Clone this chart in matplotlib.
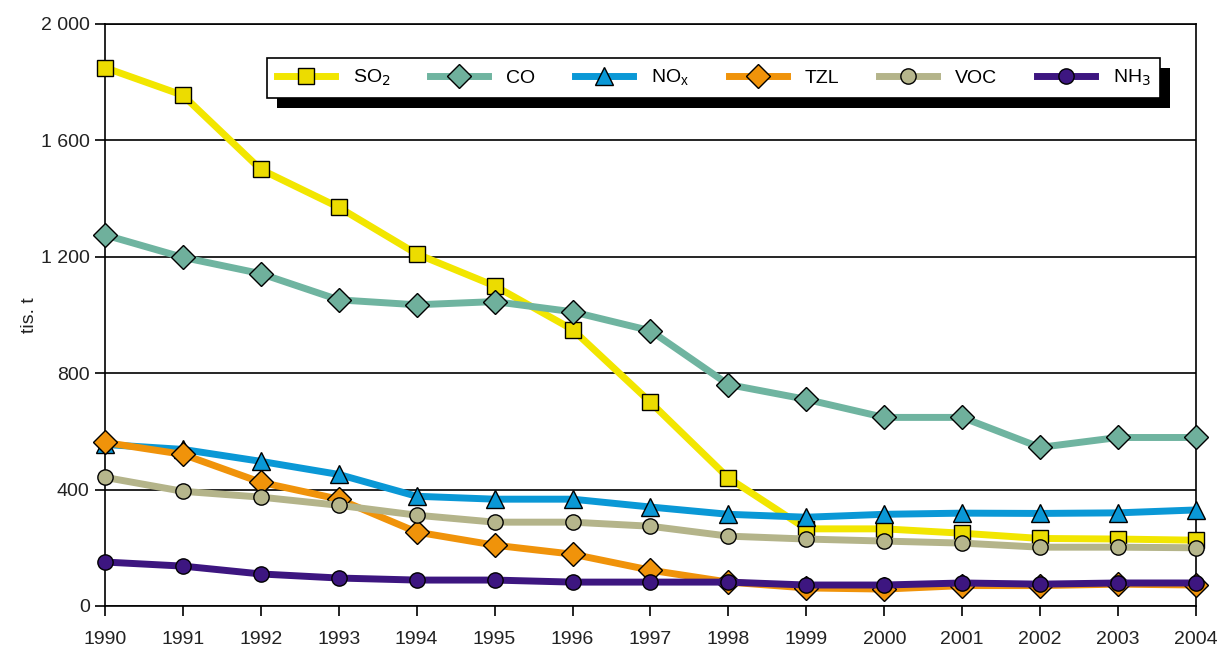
import numpy as np
import matplotlib
matplotlib.use("Agg")
import matplotlib.pyplot as plt
from matplotlib.patches import Rectangle
from matplotlib.ticker import FuncFormatter

plt.rcParams['font.family'] = ['Liberation Sans', 'DejaVu Sans']

years = list(range(1990, 2005))
so2 = [1850, 1755, 1500, 1370, 1210, 1100, 950, 700, 440, 265, 265, 250, 232, 230, 226]
co = [1275, 1198, 1142, 1052, 1035, 1046, 1011, 946, 761, 710, 648, 648, 545, 579, 579]
nox = [555, 538, 497, 452, 377, 367, 367, 340, 315, 305, 315, 319, 318, 320, 330]
tzl = [562, 521, 425, 367, 254, 209, 178, 123, 82, 62, 58, 70, 70, 75, 72]
voc = [442, 394, 374, 346, 312, 288, 288, 274, 240, 230, 223, 216, 202, 202, 200]
nh3 = [151, 137, 110, 96, 89, 89, 82, 82, 82, 72, 72, 79, 75, 79, 79]

labels = ['SO$_2$', 'CO', 'NO$_\\mathregular{x}$', 'TZL', 'VOC', 'NH$_3$']
series = [so2, co, nox, tzl, voc, nh3]
colors = ['#f2e600', '#6fb4a0', '#0a98d6', '#f0930a', '#b4b48a', '#3d1680']
faces = ['#ecdc00', '#6fb09c', '#0a98d6', '#f0930a', '#b6b68c', '#3d1680']
markers = ['s', 'D', '^', 'D', 'o', 'o']
msizes = [12, 12, 13, 12, 11, 11]

fig = plt.figure(figsize=(12.22, 6.52), dpi=100)
ax = fig.add_axes([0.0859, 0.0706, 0.8928, 0.8926])

# draw order: NH3 on top of TZL at the end
order = [1, 0, 2, 4, 3, 5]
for i in order:
    ax.plot(years, series[i], color=colors[i], lw=5, marker=markers[i],
            ms=msizes[i], mfc=faces[i], mec='black', mew=1.0,
            label=labels[i], zorder=3 + i * 0.1, clip_on=False)

ax.set_xlim(1990, 2004)
ax.set_ylim(0, 2000)
ax.set_xticks(years)
ax.set_yticks(range(0, 2001, 400))
ax.yaxis.set_major_formatter(FuncFormatter(lambda v, p: f"{int(v):,}".replace(',', ' ')))
ax.grid(axis='y', color='black', lw=1.2, zorder=1)
for s in ax.spines.values():
    s.set_linewidth(1.2)
ax.tick_params(axis='x', direction='out', length=7, width=1.2, pad=11,
               labelsize=14, labelcolor='#222222')
ax.tick_params(axis='y', direction='out', length=7, width=1.2, pad=4,
               labelsize=14, labelcolor='#222222')
ax.set_ylabel('tis. t', fontsize=14, color='#222222', labelpad=2)

hnd, lab = ax.get_legend_handles_labels()
idx = [lab.index(l) for l in labels]
leg = ax.legend([hnd[k] for k in idx], [lab[k] for k in idx], ncol=6,
                loc='upper left', bbox_to_anchor=(0.1485, 0.9416),
                borderaxespad=0, frameon=True, fancybox=False,
                edgecolor='black', facecolor='white', framealpha=1,
                fontsize=14, handlelength=3.0, columnspacing=2.05,
                handletextpad=0.9, borderpad=0.5)
leg.get_frame().set_linewidth(1.2)
leg.set_zorder(10)

fig.canvas.draw()
bb = leg.get_window_extent()
sh = Rectangle((bb.x0 + 10, bb.y0 - 10), bb.width, bb.height,
               transform=None, facecolor='black', edgecolor='none', zorder=9)
ax.add_artist(sh)
sh.set_zorder(9)

fig.savefig('out.png', dpi=100)
